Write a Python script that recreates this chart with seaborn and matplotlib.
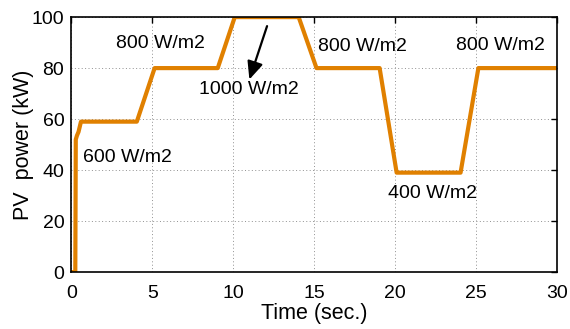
import numpy as np
import pandas as pd
import matplotlib
matplotlib.use("Agg")
import matplotlib.pyplot as plt
import seaborn as sns

# Data
time_s = [0.0, 0.25, 0.28, 0.35, 0.45, 0.6, 4.05, 5.15, 9.05, 10.1, 14.05, 15.15,
          19.05, 20.1, 24.05, 25.15, 30.0]
power_kw = [0.0, 0.0, 52.0, 53.5, 55.0, 59.0, 59.0, 80.0, 80.0, 100.0, 100.0, 80.0,
            80.0, 39.0, 39.0, 80.0, 80.0]

labels = ["600 W/m2", "800 W/m2", "1000 W/m2", "800 W/m2", "400 W/m2", "800 W/m2"]
label_t = [3.5, 5.5, 11.0, 18.0, 22.3, 26.5]
label_p = [45.0, 89.8, 71.5, 88.5, 31.0, 88.7]

arrow_from = (12.15, 97.5)
arrow_to = (10.95, 74.5)

x_ticks = [0, 5, 10, 15, 20, 25, 30]
y_ticks = [0, 20, 40, 60, 80, 100]

sns.set_theme(style="white")
plt.rcParams['font.family'] = ['Liberation Sans', 'DejaVu Sans']

df = pd.DataFrame({"t": time_s, "p": power_kw})

fig = plt.figure(figsize=(5.7, 3.29), dpi=100)
ax = fig.add_axes([0.125, 0.173, 0.852, 0.775])

sns.lineplot(data=df, x="t", y="p", ax=ax, color="#E08000", linewidth=3.0,
             sort=False, estimator=None)

ax.set_xlim(0, 30)
ax.set_ylim(0, 100)
ax.set_xticks(x_ticks)
ax.set_yticks(y_ticks)
ax.grid(True, linestyle=(0, (1, 2.5)), color="#909090", linewidth=0.7)
ax.set_axisbelow(True)
for s in ax.spines.values():
    s.set_color("black")
    s.set_linewidth(1.2)
ax.tick_params(direction="in", top=True, right=True, length=4, width=1,
               labelsize=14, colors="black")
ax.tick_params(axis="x", pad=9)
ax.tick_params(axis="y", pad=5)
for lab in ax.get_xticklabels() + ax.get_yticklabels():
    lab.set_color("black")

ax.set_xlabel("Time (sec.)", fontsize=15.5, color="black", labelpad=1)
ax.set_ylabel("PV  power (kW)", fontsize=15.5, color="black", labelpad=-2)

for txt, tx, ty in zip(labels, label_t, label_p):
    ax.text(tx, ty, txt, fontsize=14, ha="center", va="center", color="black")

ax.annotate("", xy=arrow_to, xytext=arrow_from,
            arrowprops=dict(arrowstyle="-|>,head_length=0.9,head_width=0.4",
                            color="black", lw=1.6))

fig.savefig("out.png", dpi=100)
